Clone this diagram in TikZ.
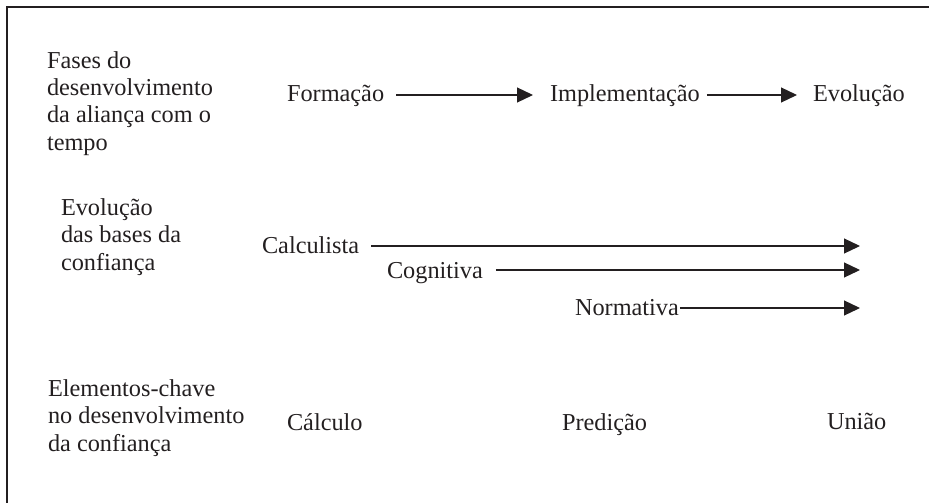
\documentclass[tikz,border=0pt]{standalone}
\usepackage{fontspec}
\setmainfont{Liberation Serif}
\usetikzlibrary{arrows.meta}
\definecolor{ink}{HTML}{231F20}
\tikzset{
  lbl/.style={anchor=base west, inner sep=0pt, outer sep=0pt, text=ink,
    font=\fontsize{24.3}{27.3}\selectfont},
  blk/.style={lbl, align=left},
  arr/.style={draw=ink, line width=1.2pt, -{Triangle[length=16pt,width=15pt]}},
  frame/.style={draw=ink, line width=1.5pt}
}
\begin{document}
\begin{tikzpicture}[x=1pt,y=-1pt]
\useasboundingbox (0,0) rectangle (929,503);
\draw[frame] (929,7) -- (7,7) -- (7,503);

\node[blk] (fases) at (47,150) {Fases do\\desenvolvimento\\da aliança com o\\tempo};
\node[lbl] (form) at (287,102) {Formação};
\node[lbl] (impl) at (550,102) {Implementação};
\node[lbl] (evol) at (813,102) {Evolução};
\draw[arr] ([xshift=12pt,yshift=7pt]form.base east) -- ([xshift=-17pt,yshift=7pt]impl.base west);
\draw[arr] ([xshift=7pt,yshift=7pt]impl.base east) -- ([xshift=-16pt,yshift=7pt]evol.base west);

\node[blk] (bases) at (61,270) {Evolução\\das bases da\\confiança};
\node[lbl] (calc) at (262,253) {Calculista};
\node[lbl] (cogn) at (387,278) {Cognitiva};
\node[lbl] (norm) at (575,315) {Normativa};
\coordinate (t1) at (860,246);
\coordinate (t2) at (860,270);
\coordinate (t3) at (860,308);
\draw[arr] ([xshift=12pt,yshift=7pt]calc.base east) -- (t1);
\draw[arr] ([xshift=13pt,yshift=8pt]cogn.base east) -- (t2);
\draw[arr] ([xshift=1pt,yshift=7pt]norm.base east) -- (t3);

\node[blk] (elem) at (48,451) {Elementos-chave\\no desenvolvimento\\da confiança};
\node[lbl] (calculo) at (287,430) {Cálculo};
\node[lbl] (pred) at (562,430) {Predição};
\node[lbl] (uniao) at (827,429) {União};
\end{tikzpicture}
\end{document}
